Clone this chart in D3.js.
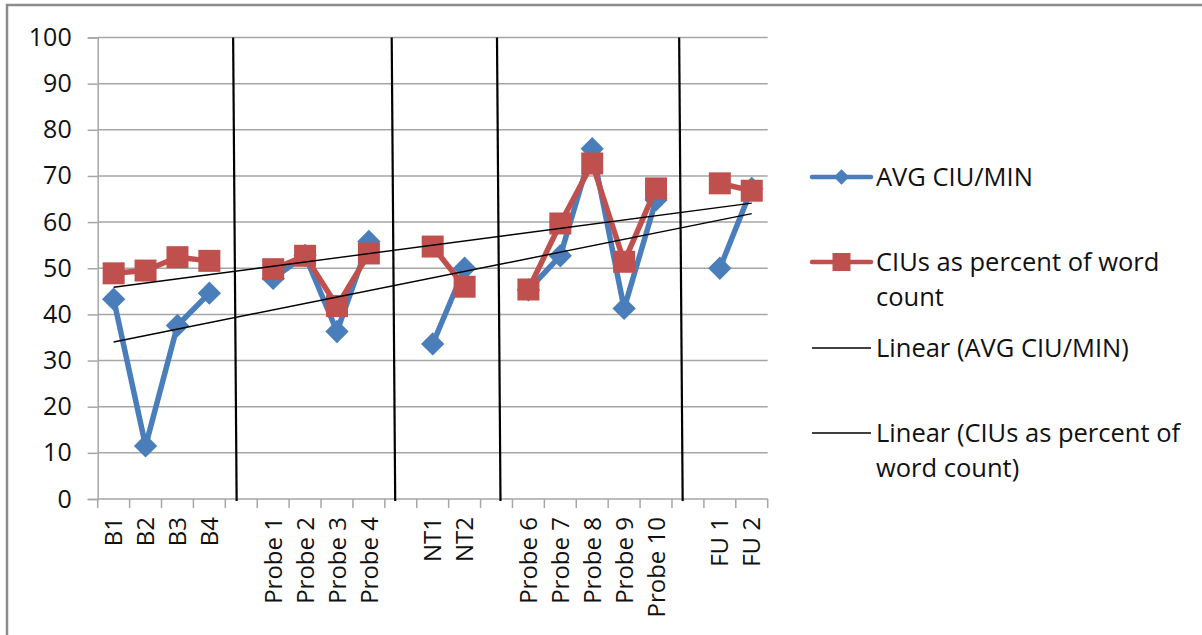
<!DOCTYPE html>
<html><head><meta charset="utf-8">
<script src="https://cdn.jsdelivr.net/npm/d3@7"></script>
<style>
body{margin:0;background:#fff;}
svg{display:block;}
text{font-family:"Open Sans",sans-serif;fill:#111;}
</style>
</head><body>
<svg id="chart" width="1202" height="635"></svg>
<script>
// ---- data ----
const categories = ["B1","B2","B3","B4","","Probe 1","Probe 2","Probe 3","Probe 4","","NT1","NT2","","Probe 6","Probe 7","Probe 8","Probe 9","Probe 10","","FU 1","FU 2"];
const avgCiuMin  = [43.3,11.5,37.6,44.6,null,47.8,52.8,36.3,55.8,null,33.6,50.0,null,45.3,52.7,75.9,41.3,64.8,null,50.0,67.3];
const ciuPercent = [48.9,49.5,52.4,51.6,null,49.8,52.7,41.8,53.2,null,54.7,46.0,null,45.4,59.7,72.7,51.4,67.3,null,68.4,66.8];
const yTicks = [0,10,20,30,40,50,60,70,80,90,100];
const phaseDividers = [4.3, 9.27, 12.57, 18.28]; // in category-slot units
const seriesNames = ["AVG CIU/MIN","CIUs as percent of word count"];
const legendLines = [["AVG CIU/MIN"],["CIUs as percent of word","count"],["Linear (AVG CIU/MIN)"],["Linear (CIUs as percent of","word count)"]];

// ---- layout ----
const svg = d3.select("#chart");
const plot = {left:97.7, right:767.7, top:37.5, bottom:499};
const blue = "#4a7ebb", red = "#c0504d", grid = "#a6a6a6";

svg.append("rect").attr("x",7).attr("y",5).attr("width",1230).attr("height",660)
  .attr("fill","#fff").attr("stroke","#8c8c8c").attr("stroke-width",2.5);

const idx = categories.map((d,i)=>i);
const x = d3.scaleBand().domain(idx).range([plot.left, plot.right]).padding(0);
const xs = d3.scaleLinear().domain([0, categories.length]).range([plot.left, plot.right]);
const y = d3.scaleLinear().domain([0,100]).range([plot.bottom, plot.top]);
const cx = i => x(i) + x.bandwidth()/2;

// gridlines
svg.append("g").selectAll("line").data(yTicks.filter(t=>t>0)).join("line")
  .attr("x1",plot.left).attr("x2",plot.right).attr("y1",d=>y(d)).attr("y2",d=>y(d))
  .attr("stroke",grid).attr("stroke-width",1.5);
// y axis
const yAxis = d3.axisLeft(y).tickValues(yTicks).tickSize(10).tickPadding(16);
const gy = svg.append("g").attr("transform",`translate(${plot.left},0)`).call(yAxis);
gy.select(".domain").attr("stroke",grid).attr("stroke-width",1.5);
gy.selectAll(".tick line").attr("stroke",grid).attr("stroke-width",1.5);
gy.selectAll(".tick text").attr("font-size",25).attr("fill","#111").style("font-family","'Open Sans',sans-serif");

// x axis
const gx = svg.append("g").attr("transform",`translate(0,${plot.bottom})`);
gx.append("line").attr("x1",plot.left).attr("x2",plot.right).attr("stroke",grid).attr("stroke-width",1.5);
gx.selectAll("line.tk").data(d3.range(categories.length+1)).join("line").attr("class","tk")
  .attr("x1",d=>xs(d)).attr("x2",d=>xs(d)).attr("y1",0).attr("y2",9)
  .attr("stroke",grid).attr("stroke-width",1.5);
gx.selectAll("text").data(idx.filter(i=>categories[i]!=="")).join("text")
  .attr("transform",i=>`translate(${cx(i)},18) rotate(-90)`)
  .attr("text-anchor","end").attr("dy","0.36em").attr("font-size",24)
  .text(i=>categories[i]);

// phase divider lines
svg.append("g").selectAll("line").data(phaseDividers).join("line")
  .attr("x1",d=>xs(d-0.055)).attr("x2",d=>xs(d+0.055))
  .attr("y1",plot.top).attr("y2",plot.bottom+2)
  .attr("stroke","#000").attr("stroke-width",2.2);

// series
function segments(vals){
  const out=[]; let cur=[];
  vals.forEach((v,i)=>{ if(v==null){ if(cur.length) out.push(cur); cur=[]; } else cur.push([i,v]); });
  if(cur.length) out.push(cur);
  return out;
}
const line = d3.line().x(d=>cx(d[0])).y(d=>y(d[1]));
function drawSeries(vals,color,markerSide,rot){
  const g = svg.append("g");
  g.selectAll("path.l").data(segments(vals)).join("path").attr("class","l")
    .attr("d",line).attr("fill","none").attr("stroke",color).attr("stroke-width",5.5)
    .attr("stroke-linejoin","round");
  g.selectAll("path.m").data(vals.map((v,i)=>[i,v]).filter(d=>d[1]!=null)).join("path").attr("class","m")
    .attr("d",d3.symbol().type(d3.symbolSquare).size(markerSide*markerSide))
    .attr("transform",d=>`translate(${cx(d[0])},${y(d[1])}) rotate(${rot})`)
    .attr("fill",color);
}
drawSeries(avgCiuMin, blue, 16.5, 45);
drawSeries(ciuPercent, red, 22, 0);

// linear trend lines (least squares on category positions)
function trend(vals){
  const pts = vals.map((v,i)=>[i,v]).filter(d=>d[1]!=null);
  const mx = d3.mean(pts,d=>d[0]), my = d3.mean(pts,d=>d[1]);
  const b = d3.sum(pts,d=>(d[0]-mx)*(d[1]-my))/d3.sum(pts,d=>(d[0]-mx)**2);
  const a = my - b*mx;
  const i0 = pts[0][0], i1 = pts[pts.length-1][0];
  return [[i0,a+b*i0],[i1,a+b*i1]];
}
svg.append("g").selectAll("path").data([trend(avgCiuMin),trend(ciuPercent)]).join("path")
  .attr("d",line).attr("stroke","#000").attr("stroke-width",1.4).attr("fill","none");

// legend
const lg = svg.append("g");
const legendY = [177, 262, 348, 433];
const lineGap = 35;
legendLines.forEach((lines,k)=>{
  const yy = legendY[k];
  const col = k===0?blue:(k===1?red:"#000");
  lg.append("line").attr("x1",812).attr("x2",871).attr("y1",yy).attr("y2",yy)
    .attr("stroke",col).attr("stroke-width",k<2?4.5:1.4).attr("stroke-linecap",k<2?"round":"butt");
  if(k===0) lg.append("path").attr("d",d3.symbol().type(d3.symbolSquare).size(11*11))
    .attr("transform",`translate(841.5,${yy}) rotate(45)`).attr("fill",blue);
  if(k===1) lg.append("path").attr("d",d3.symbol().type(d3.symbolSquare).size(18*18))
    .attr("transform",`translate(841.5,${yy})`).attr("fill",red);
  lines.forEach((t,j)=>{
    lg.append("text").attr("x",876).attr("y",yy+j*lineGap).attr("dy","0.36em")
      .attr("font-size",25.5).text(t);
  });
});
</script>
</body></html>
